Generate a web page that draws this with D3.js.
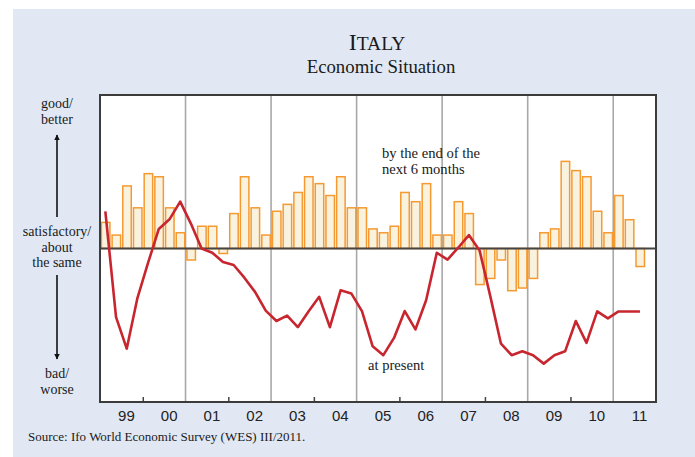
<!DOCTYPE html>
<html>
<head>
<meta charset="utf-8">
<script src="https://cdn.jsdelivr.net/npm/d3@7"></script>
<style>
  html, body { margin: 0; padding: 0; background: #ffffff; }
  svg { display: block; }
</style>
</head>
<body>
<svg id="chart" width="695" height="457"></svg>
<script>
// ---- data (WES scale 1 = bad/worse, 5 = satisfactory, 9 = good/better) ----
const startYear = 1999;
const yearLabels = ["99","00","01","02","03","04","05","06","07","08","09","10","11"];
// Expectations: by the end of the next 6 months (quarterly, 1999Q1 .. 2011Q3)
const expectations = [
  5.68, 5.35, 6.63, 6.06,
  6.95, 6.87, 6.06, 5.41,
  4.70, 5.58, 5.58, 4.87,
  5.91, 6.87, 6.06, 5.35,
  5.97, 6.15, 6.46, 6.87,
  6.69, 6.38, 6.87, 6.06,
  6.06, 5.51, 5.41, 5.58,
  6.46, 6.22, 6.69, 5.35,
  5.35, 6.22, 5.91, 4.06,
  4.22, 4.70, 3.90, 3.97,
  4.22, 5.41, 5.51, 7.27,
  7.03, 6.87, 5.97, 5.41,
  6.38, 5.75, 4.53
];
// Present situation (quarterly, 1999Q1 .. 2011Q3)
const present = [
  5.97, 3.21, 2.39, 3.71,
  4.63, 5.51, 5.76, 6.22,
  5.65, 5.00, 4.89, 4.65,
  4.57, 4.24, 3.87, 3.38,
  3.11, 3.25, 2.95, 3.36,
  3.74, 2.95, 3.91, 3.83,
  3.37, 2.45, 2.22, 2.67,
  3.37, 2.89, 3.65, 4.89,
  4.71, 5.02, 5.35, 4.95,
  3.76, 2.52, 2.22, 2.32,
  2.22, 2.00, 2.22, 2.32,
  3.11, 2.54, 3.36, 3.18,
  3.36, 3.36, 3.36
];
const gridYears = [2001, 2003, 2005, 2007, 2009, 2011];
const tickYears = [2000, 2002, 2004, 2006, 2008, 2010];

// ---- layout ----
const svg = d3.select("#chart");
const L = 100, R = 656, T = 95, B = 402;
const x = d3.scaleLinear().domain([1999, 2012]).range([L, R]);
const y = d3.scaleLinear().domain([1, 9]).range([B, T]);
const q = i => startYear + i / 4;          // quarter start
const qc = i => startYear + (i + 0.5) / 4; // quarter centre
const qw = x(1999.25) - x(1999);

// background
svg.append("rect").attr("x", 13).attr("y", 9).attr("width", 682).attr("height", 448)
  .attr("fill", "#e1e8f4");
svg.append("rect").attr("x", L).attr("y", T).attr("width", R - L).attr("height", B - T)
  .attr("fill", "#ffffff");

// title
const title = svg.append("text").attr("x", 377).attr("y", 50)
  .attr("text-anchor", "middle").attr("font-family", "Liberation Serif, Times New Roman, serif")
  .attr("fill", "#1a1a1a");
title.append("tspan").attr("font-size", 24).text("I");
title.append("tspan").attr("font-size", 19.5).text("TALY");
svg.append("text").attr("x", 381).attr("y", 73).attr("text-anchor", "middle")
  .attr("font-family", "Liberation Serif, Times New Roman, serif").attr("font-size", 18.8)
  .attr("fill", "#1a1a1a").text("Economic Situation");

// year grid lines
svg.append("g").selectAll("line").data(gridYears).join("line")
  .attr("x1", d => x(d)).attr("x2", d => x(d)).attr("y1", T).attr("y2", B)
  .attr("stroke", "#a8a8a8").attr("stroke-width", 1.6);

// bars
svg.append("g").selectAll("rect").data(expectations).join("rect")
  .attr("x", (d, i) => x(q(i)) + 1.4)
  .attr("width", qw - 2.2)
  .attr("y", d => Math.min(y(d), y(5)))
  .attr("height", d => Math.abs(y(d) - y(5)))
  .attr("fill", "#f8f2df").attr("stroke", "#f59a30").attr("stroke-width", 1.5);

// zero line
svg.append("line").attr("x1", L).attr("x2", R).attr("y1", y(5)).attr("y2", y(5))
  .attr("stroke", "#454545").attr("stroke-width", 2);

// present situation line
const line = d3.line().x((d, i) => x(qc(i))).y(d => y(d));
svg.append("path").datum(present).attr("d", line)
  .attr("fill", "none").attr("stroke", "#c8262f").attr("stroke-width", 2.6)
  .attr("stroke-linejoin", "round");

// small ticks at bottom (inside)
const tickAxis = d3.axisBottom(x).tickValues(tickYears).tickSize(-5).tickFormat("");
svg.append("g").attr("transform", `translate(0,${B})`).call(tickAxis)
  .call(g => g.select(".domain").remove())
  .call(g => g.selectAll("line").attr("stroke", "#444").attr("stroke-width", 1.5));

// year labels
const labelAxis = d3.axisBottom(x)
  .tickValues(yearLabels.map((d, i) => startYear + i + 0.5))
  .tickSize(0).tickPadding(0)
  .tickFormat((d, i) => yearLabels[i]);
svg.append("g").attr("transform", `translate(4.5,${B})`).call(labelAxis)
  .call(g => g.select(".domain").remove())
  .call(g => g.selectAll("text").attr("font-family", "Liberation Sans, Arial, sans-serif")
    .attr("font-size", 15).attr("fill", "#222").attr("dy", null).attr("y", 19));

// frame
svg.append("rect").attr("x", L).attr("y", T).attr("width", R - L).attr("height", B - T)
  .attr("fill", "none").attr("stroke", "#3c3c3c").attr("stroke-width", 2);

// annotations
const serif = "Liberation Serif, Times New Roman, serif";
const ann = svg.append("text").attr("font-family", serif).attr("font-size", 14.6).attr("fill", "#1a1a1a");
ann.append("tspan").attr("x", 382).attr("y", 158).text("by the end of the");
ann.append("tspan").attr("x", 382).attr("y", 173.5).text("next 6 months");
svg.append("text").attr("x", 368).attr("y", 369.5).attr("font-family", serif)
  .attr("font-size", 14.6).attr("fill", "#1a1a1a").text("at present");

// left scale labels
const lab = (lines, y0) => {
  const t = svg.append("text").attr("font-family", serif).attr("font-size", 14)
    .attr("text-anchor", "middle").attr("fill", "#1a1a1a");
  lines.forEach((s, i) => t.append("tspan").attr("x", 57).attr("y", y0 + i * 15.5).text(s));
};
lab(["good/", "better"], 108);
lab(["satisfactory/", "about", "the same"], 236);
lab(["bad/", "worse"], 378);

const defs = svg.append("defs");
defs.append("marker").attr("id", "ah").attr("viewBox", "0 0 10 10").attr("refX", 9).attr("refY", 5)
  .attr("markerWidth", 3.4).attr("markerHeight", 4.2).attr("orient", "auto")
  .append("path").attr("d", "M0,0 L10,5 L0,10 Z").attr("fill", "#111");
svg.append("line").attr("x1", 57).attr("x2", 57).attr("y1", 217).attr("y2", 135)
  .attr("stroke", "#111").attr("stroke-width", 1.6).attr("marker-end", "url(#ah)");
svg.append("line").attr("x1", 57).attr("x2", 57).attr("y1", 275).attr("y2", 359)
  .attr("stroke", "#111").attr("stroke-width", 1.6).attr("marker-end", "url(#ah)");

// source
svg.append("text").attr("x", 28).attr("y", 441).attr("font-family", serif).attr("font-size", 13)
  .attr("fill", "#1a1a1a").text("Source: Ifo World Economic Survey (WES) III/2011.");
</script>
</body>
</html>
